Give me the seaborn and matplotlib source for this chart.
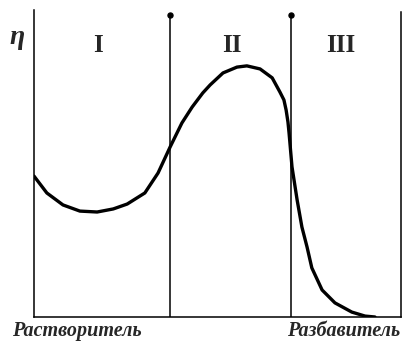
import matplotlib
matplotlib.use("Agg")
import matplotlib.pyplot as plt
import seaborn as sns
import pandas as pd

# Viscosity of a polymer solution vs. solvent/diluent composition
composition = [0.000, 0.035, 0.079, 0.125, 0.172, 0.216, 0.254, 0.302, 0.338,
               0.371, 0.403, 0.431, 0.460, 0.480, 0.515, 0.553, 0.580, 0.616,
               0.649, 0.670, 0.681, 0.687, 0.692, 0.695, 0.703, 0.717, 0.730,
               0.744, 0.757, 0.785, 0.820, 0.866, 0.902, 0.929]
viscosity = [45.9, 40.4, 36.5, 34.5, 34.2, 35.2, 36.8, 40.4, 46.9,
             55.4, 63.2, 68.4, 73.0, 75.6, 79.5, 81.4, 81.8, 80.8,
             77.9, 73.3, 70.7, 67.4, 63.5, 59.9, 48.9, 38.1, 29.3,
             22.8, 16.0, 8.8, 4.6, 1.6, 0.3, 0.0]

region_bounds = [0.371, 0.700]
region_labels = ["I", "II", "III"]
region_label_x = [0.174, 0.540, 0.837]

axis_start_label = "Растворитель"
axis_end_label = "Разбавитель"
y_label = "η"

df = pd.DataFrame({"composition": composition, "viscosity": viscosity})

sns.set_style("white")
plt.rcParams["font.family"] = ["Liberation Serif", "DejaVu Serif"]

W, H = 406, 345
fig = plt.figure(figsize=(W / 100, H / 100), dpi=100)
ax = fig.add_axes([34 / W, 28 / H, (401 - 34) / W, (317 - 10) / H])

sns.lineplot(data=df, x="composition", y="viscosity", sort=False,
             color="black", lw=2.4, ax=ax,
             solid_joinstyle="round", solid_capstyle="round")

for b in region_bounds:
    ax.plot([b, b], [0, 98.4], color="black", lw=1.1, solid_capstyle="butt")
    ax.plot([b], [98.4], marker="o", ms=3.6, color="black")

for lx, lab in zip(region_label_x, region_labels):
    ax.text(lx, 88.5, lab, ha="center", va="center", fontsize=18,
            fontweight="bold")

ax.set_xlim(0, 1)
ax.set_ylim(0, 100)
ax.set_xticks([])
ax.set_yticks([])
ax.set_xlabel("")
ax.set_ylabel("")
ax.spines["top"].set_visible(False)
for s in ["left", "bottom", "right"]:
    ax.spines[s].set_color("black")
    ax.spines[s].set_linewidth(1.1)
ax.spines["right"].set_bounds(0, 99.3)

fig.text(17 / W, 1 - 37 / H, y_label, ha="center", va="center",
         fontsize=20, fontstyle="italic", fontweight="bold")
fig.text(12 / W, 1 - 331 / H, axis_start_label, ha="left", va="center",
         fontsize=14.5, fontstyle="italic", fontweight="bold")
fig.text(400 / W, 1 - 331 / H, axis_end_label, ha="right", va="center",
         fontsize=14.5, fontstyle="italic", fontweight="bold")

fig.savefig("out.png", dpi=100)
